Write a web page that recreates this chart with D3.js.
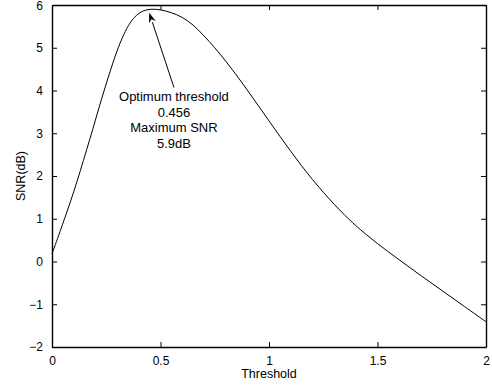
<!DOCTYPE html>
<html>
<head>
<meta charset="utf-8">
<script src="https://cdn.jsdelivr.net/npm/d3@7"></script>
<style>
  body { margin: 0; background: #fff; }
  text { font-family: "Liberation Sans", Arial, sans-serif; fill: #000; }
</style>
</head>
<body>
<div id="chart"></div>
<script>
// chart size
const w = 492;
const h = 388;
const margin = { top: 5, right: 6, bottom: 41, left: 52 };

// threshold values (x) and the SNR (y, dB)
const threshold = [0, 0.03, 0.068, 0.1, 0.129, 0.16, 0.187, 0.215, 0.244, 0.27, 0.298, 0.33, 0.36, 0.39, 0.42, 0.456,
  0.5, 0.55, 0.6, 0.65, 0.7, 0.75, 0.8, 0.85, 0.9, 0.95, 1.0, 1.05, 1.1, 1.15, 1.2, 1.25, 1.3, 1.35, 1.4, 1.5, 1.6, 1.7, 1.8, 1.9, 2.0];
const snr = [0.18, 0.6, 1.15, 1.63, 2.1, 2.62, 3.08, 3.57, 4.06, 4.48, 4.9, 5.3, 5.58, 5.76, 5.86, 5.9,
  5.885, 5.82, 5.71, 5.53, 5.28, 5.0, 4.69, 4.36, 4.01, 3.65, 3.29, 2.93, 2.58, 2.24, 1.92, 1.62, 1.34, 1.08, 0.84, 0.42, 0.04, -0.33, -0.69, -1.05, -1.41];

// tick values
const xTicks = [0, 0.5, 1, 1.5, 2];
const yTicks = [-2, -1, 0, 1, 2, 3, 4, 5, 6];

// annotation text and where the arrow goes (data coords)
const noteLines = ["Optimum threshold", "0.456", "Maximum SNR", "5.9dB"];
const arrowTip = [0.448, 5.82];
const arrowTail = [0.562, 4.07];

const svg = d3.select("#chart").append("svg")
  .attr("width", w)
  .attr("height", h);

const x = d3.scaleLinear().domain([0, 2]).range([margin.left, w - margin.right]);
const y = d3.scaleLinear().domain([-2, 6]).range([h - margin.bottom, margin.top]);

const tickLen = 5;

// bottom and top axes (ticks point inward, like matlab)
svg.append("g")
  .attr("transform", `translate(0, ${y(-2)})`)
  .call(d3.axisBottom(x).tickValues(xTicks).tickSizeInner(-tickLen).tickSizeOuter(0).tickPadding(9)
    .tickFormat(d3.format("")))
  .call(g => g.selectAll("text").style("font-size", "12px"));

svg.append("g")
  .attr("transform", `translate(0, ${y(6)})`)
  .call(d3.axisTop(x).tickValues(xTicks).tickSizeInner(-tickLen).tickSizeOuter(0).tickFormat(""));

// left and right axes
svg.append("g")
  .attr("transform", `translate(${x(0)}, 0)`)
  .call(d3.axisLeft(y).tickValues(yTicks).tickSizeInner(-tickLen).tickSizeOuter(0).tickPadding(9)
    .tickFormat(d => d < 0 ? "\u2212" + Math.abs(d) : d))
  .call(g => g.selectAll("text").style("font-size", "12px"))
  // top label sits against the edge in the original; nudge so it isn't clipped
  .call(g => g.selectAll(".tick").filter(d => d === 6).select("text").attr("dy", "0.4em"));

svg.append("g")
  .attr("transform", `translate(${x(2)}, 0)`)
  .call(d3.axisRight(y).tickValues(yTicks).tickSizeInner(-tickLen).tickSizeOuter(0).tickFormat(""));

svg.selectAll(".domain").attr("stroke", "#000").attr("stroke-width", 1.4);
svg.selectAll(".tick line").attr("stroke", "#000");

// axis labels
svg.append("text")
  .attr("x", (x(0) + x(2)) / 2)
  .attr("y", h - 10)
  .attr("text-anchor", "middle")
  .style("font-size", "12.5px")
  .text("Threshold");

svg.append("text")
  .attr("transform", `translate(25, ${(y(-2) + y(6)) / 2}) rotate(-90)`)
  .attr("text-anchor", "middle")
  .style("font-size", "12.5px")
  .text("SNR(dB)");

// the curve
const pts = threshold.map((t, i) => [t, snr[i]]);
const line = d3.line()
  .x(d => x(d[0]))
  .y(d => y(d[1]))
  .curve(d3.curveCatmullRom);

svg.append("path")
  .datum(pts)
  .attr("d", line)
  .attr("fill", "none")
  .attr("stroke", "#000")
  .attr("stroke-width", 1);

// arrow pointing at the max
const tx = x(arrowTip[0]), ty = y(arrowTip[1]);
const sx = x(arrowTail[0]), sy = y(arrowTail[1]);
const ang = Math.atan2(ty - sy, tx - sx);
const headLen = 10, headW = 3.5;
const bx = tx - headLen * Math.cos(ang), by = ty - headLen * Math.sin(ang);

svg.append("line")
  .attr("x1", sx).attr("y1", sy)
  .attr("x2", bx).attr("y2", by)
  .attr("stroke", "#000")
  .attr("stroke-width", 1);

svg.append("path")
  .attr("d", `M${tx},${ty}L${bx + headW * Math.sin(ang)},${by - headW * Math.cos(ang)}`
    + `L${tx - 0.7 * headLen * Math.cos(ang)},${ty - 0.7 * headLen * Math.sin(ang)}`
    + `L${bx - headW * Math.sin(ang)},${by + headW * Math.cos(ang)}Z`)
  .attr("fill", "#000");

// annotation text block
svg.append("g")
  .selectAll("text")
  .data(noteLines)
  .enter()
  .append("text")
  .attr("x", sx)
  .attr("y", (d, i) => sy + 13.5 + i * 15.7)
  .attr("text-anchor", "middle")
  .style("font-size", "13px")
  .text(d => d);
</script>
</body>
</html>
